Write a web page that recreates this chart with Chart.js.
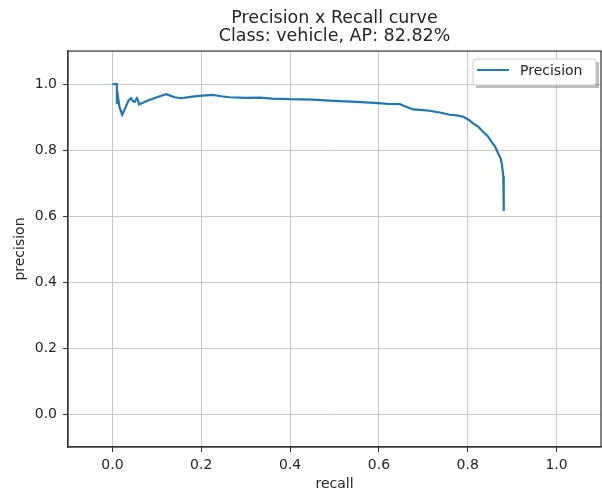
<!DOCTYPE html>
<html lang="en">
<head>
    <meta charset="UTF-8">
    <title>Precision x Recall curve</title>
    <script src="https://cdn.jsdelivr.net/npm/chart.js"></script>
    <style>
        html, body { margin: 0; padding: 0; background: #fff; }
        #wrap { width: 602px; height: 494px; }
    </style>
</head>
<body>
    <div id="wrap"><canvas id="prChart" width="602" height="494"></canvas></div>

    <script>
        // values
        const recall = [
            0.0, 0.01, 0.01, 0.012, 0.016, 0.022, 0.03, 0.036, 0.042, 0.046,
            0.05, 0.055, 0.058, 0.06, 0.08, 0.1, 0.121, 0.13, 0.14, 0.155,
            0.18, 0.196, 0.226, 0.245, 0.264, 0.3, 0.332, 0.36, 0.4, 0.45,
            0.5, 0.55, 0.598, 0.62, 0.647, 0.66, 0.677, 0.7, 0.714, 0.74,
            0.759, 0.775, 0.79, 0.802, 0.812, 0.824, 0.834, 0.845, 0.853, 0.862,
            0.868, 0.874, 0.877, 0.88, 0.881
        ];
        const precision = [
            1.0, 1.0, 0.94, 0.967, 0.93, 0.907, 0.93, 0.95, 0.957, 0.948,
            0.946, 0.957, 0.95, 0.938, 0.95, 0.96, 0.969, 0.965, 0.96, 0.957,
            0.962, 0.964, 0.967, 0.963, 0.96, 0.958, 0.959, 0.956, 0.954, 0.953,
            0.949, 0.946, 0.942, 0.94, 0.939, 0.932, 0.923, 0.921, 0.919, 0.913,
            0.907, 0.905, 0.901, 0.892, 0.881, 0.87, 0.856, 0.842, 0.826, 0.81,
            0.791, 0.775, 0.756, 0.72, 0.615
        ];
        const xTicks = [0.0, 0.2, 0.4, 0.6, 0.8, 1.0];
        const yTicks = [0.0, 0.2, 0.4, 0.6, 0.8, 1.0];

        const FONT = 'DejaVu Sans';
        const TEXT = '#262626';

        // matplotlib-like frame around the plot area
        const framePlugin = {
            id: 'frame',
            afterDraw(chart) {
                const { ctx, chartArea: a } = chart;
                ctx.save();
                ctx.strokeStyle = '#333';
                ctx.lineWidth = 1.2;
                ctx.strokeRect(a.left, a.top, a.right - a.left, a.bottom - a.top);
                ctx.restore();
            }
        };

        // legend box in the upper right corner, inside the axes
        const legendBox = {
            id: 'legendBox',
            afterDraw(chart) {
                const { ctx, chartArea: a } = chart;
                const ds = chart.data.datasets[0];
                const w = 123, h = 26;
                const x = a.right - 128, y = a.top + 8;
                ctx.save();
                ctx.fillStyle = 'rgba(0,0,0,0.25)';
                ctx.fillRect(x + 3, y + 3, w, h);
                ctx.fillStyle = '#fff';
                ctx.strokeStyle = '#cccccc';
                ctx.lineWidth = 1;
                ctx.beginPath();
                ctx.roundRect(x, y, w, h, 3);
                ctx.fill();
                ctx.stroke();
                ctx.strokeStyle = ds.borderColor;
                ctx.lineWidth = 2;
                ctx.beginPath();
                ctx.moveTo(x + 4, y + 11);
                ctx.lineTo(x + 36, y + 11);
                ctx.stroke();
                ctx.fillStyle = TEXT;
                ctx.font = '14px ' + FONT;
                ctx.textBaseline = 'middle';
                ctx.fillText(ds.label, x + 47, y + 12);
                ctx.restore();
            }
        };

        const axisCommon = {
            type: 'linear',
            min: -0.1,
            max: 1.1,
            grid: { color: '#c8c8c8', lineWidth: 1, tickColor: '#333', tickLength: 5 },
            border: { color: '#333', width: 1.2 },
            ticks: {
                color: TEXT,
                font: { family: FONT, size: 14 },
                callback: v => v.toFixed(1)
            }
        };

        new Chart(document.getElementById('prChart').getContext('2d'), {
            type: 'scatter',
            data: {
                datasets: [{
                    label: 'Precision',
                    data: recall.map((r, i) => ({ x: r, y: precision[i] })),
                    showLine: true,
                    borderColor: '#1f77b4',
                    borderWidth: 2.2,
                    pointRadius: 0,
                    tension: 0
                }]
            },
            options: {
                responsive: false,
                animation: false,
                layout: { padding: { left: 0, right: 1, top: 0, bottom: 0 } },
                plugins: {
                    legend: { display: false },
                    tooltip: { enabled: false },
                    title: {
                        display: true,
                        fullSize: false,
                        text: ['Precision x Recall curve', 'Class: vehicle, AP: 82.82%'],
                        color: TEXT,
                        font: { family: FONT, size: 17.5, weight: 'normal', lineHeight: 1.03 },
                        padding: { top: 9, bottom: 6 }
                    }
                },
                scales: {
                    x: {
                        ...axisCommon,
                        afterBuildTicks: s => { s.ticks = xTicks.map(v => ({ value: v })); },
                        afterFit: s => { s.height = 47; },
                        ticks: { ...axisCommon.ticks, padding: 5 },
                        title: {
                            display: true, text: 'recall', color: TEXT,
                            font: { family: FONT, size: 14 },
                            padding: { top: 0, bottom: 1 }
                        }
                    },
                    y: {
                        ...axisCommon,
                        afterBuildTicks: s => { s.ticks = yTicks.map(v => ({ value: v })); },
                        afterFit: s => { s.width = 68; },
                        ticks: { ...axisCommon.ticks, padding: 6 },
                        title: {
                            display: true, text: 'precision', color: TEXT,
                            font: { family: FONT, size: 14 },
                            padding: { top: 12, bottom: 0 }
                        }
                    }
                }
            },
            plugins: [framePlugin, legendBox]
        });
    </script>
</body>
</html>
